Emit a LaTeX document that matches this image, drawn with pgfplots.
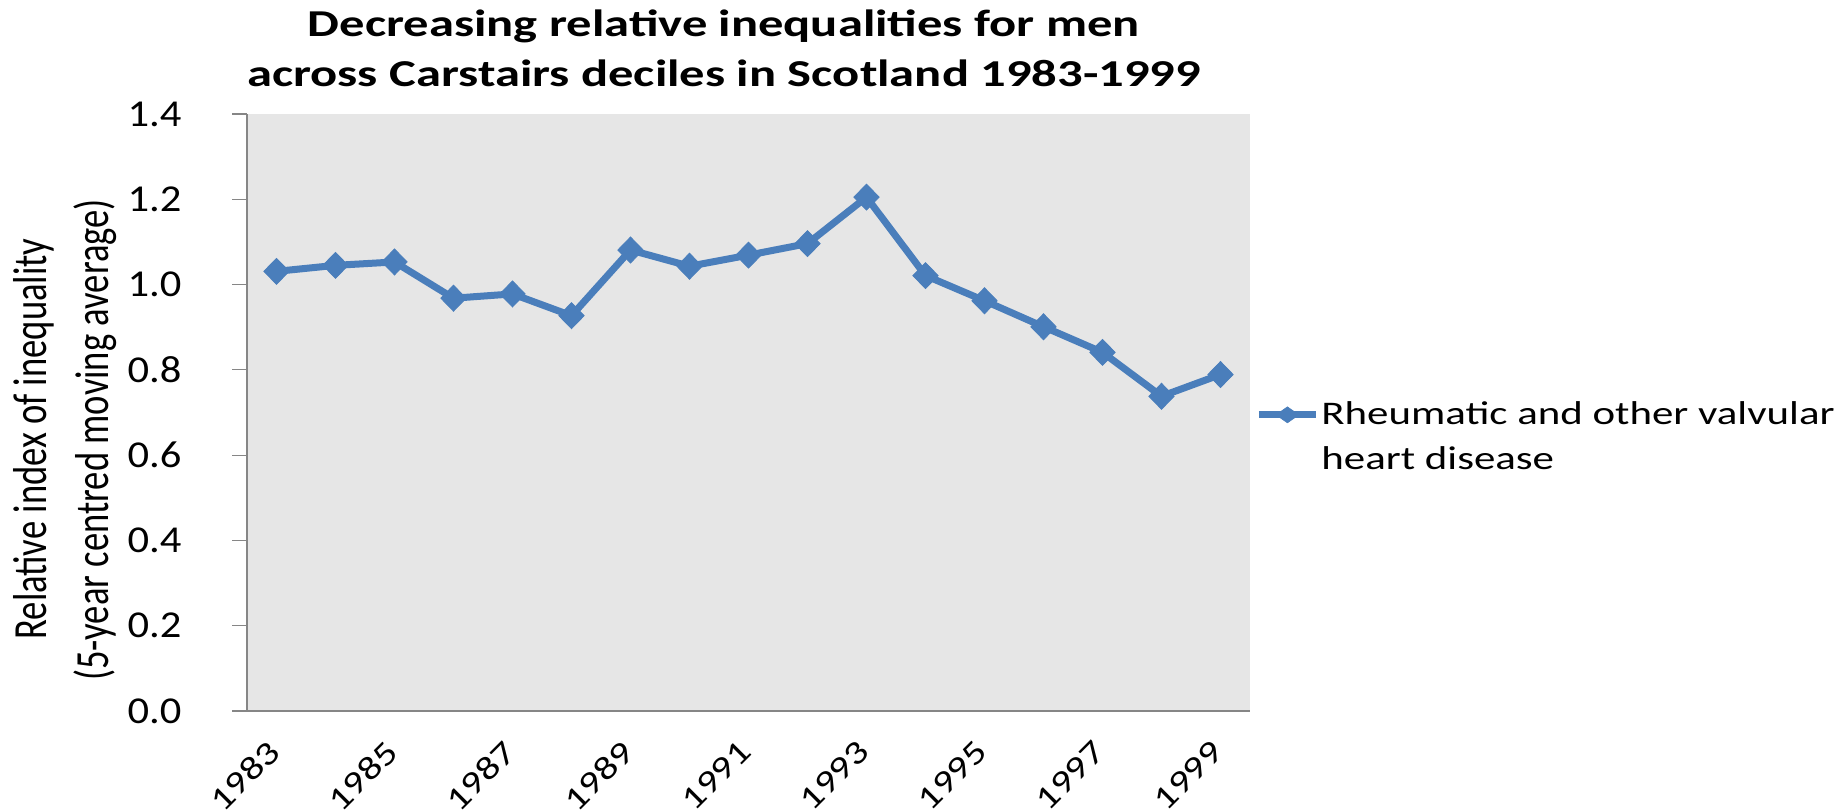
\documentclass[border=0pt]{standalone}
\usepackage{fontspec}
\setmainfont{Carlito}
\newfontfamily\legfont[FakeStretch=1.30]{Carlito}
\usepackage{pgfplots}
\pgfplotsset{compat=1.18}
\definecolor{serblue}{HTML}{4A7EBB}
\definecolor{plotbg}{HTML}{E6E6E6}
\definecolor{axgrey}{HTML}{868686}
\pgfplotstableread{
idx year value
0 1983 1.031
1 1984 1.045
2 1985 1.053
3 1986 0.968
4 1987 0.978
5 1988 0.927
6 1989 1.081
7 1990 1.043
8 1991 1.069
9 1992 1.096
10 1993 1.205
11 1994 1.021
12 1995 0.962
13 1996 0.901
14 1997 0.841
15 1998 0.738
16 1999 0.789
}\datatable
\begin{document}
\begin{tikzpicture}[x=1pt,y=1pt]
\useasboundingbox (0,0) rectangle (921.5,406);
\begin{axis}[
  at={(123.5pt,50.5pt)}, anchor=south west,
  scale only axis, width=501.5pt, height=298.5pt,
  xmin=-0.5, xmax=16.5, ymin=0, ymax=1.4,
  axis x line*=bottom, axis y line*=left,
  axis line style={axgrey, line width=0.7pt, -},
  axis background/.style={fill=plotbg},
  tick align=outside, major tick length=7.5pt, minor tick length=6pt,
  every tick/.style={axgrey, line width=0.6pt},
  ytick={0,0.2,0.4,0.6,0.8,1.0,1.2,1.4},
  /pgf/number format/fixed, /pgf/number format/fixed zerofill, /pgf/number format/precision=1, /pgf/number format/assume math mode=true,
  yticklabel style={font=\fontsize{19}{22}\selectfont, inner sep=0pt, anchor=east, xshift=-25pt, xscale=1.12},
  xtick={0,2,4,6,8,10,12,14,16},
  xticklabels={1983,1985,1987,1989,1991,1993,1995,1997,1999},
  xtick style={draw=none},
  minor xtick={-0.5,0.5,1.5,2.5,3.5,4.5,5.5,6.5,7.5,8.5,9.5,10.5,11.5,12.5,13.5,14.5,15.5,16.5},
  xticklabel style={font=\fontsize{16.5}{18}\selectfont, inner sep=0pt, anchor=north east, xshift=-5.25pt, yshift=-6pt, rotate=45, xscale=1.24},
  legend style={at={(axis description cs:1.005,0.5226)}, anchor=north west, draw=none, fill=none, font=\legfont\fontsize{16.5}{22.5}\selectfont, inner sep=0pt, nodes={inner sep=1pt}, cells={align=left}},
  legend image code/.code={\draw[#1, mark=none, yshift=11pt] (0pt,0pt) -- (28.5pt,0pt); \draw[#1, yshift=11pt, mark size=4pt, mark options={fill=serblue, draw=serblue, line width=0.3pt, xscale=1.9}] plot coordinates {(14.25pt,0pt)};},
  legend cell align=left,
  clip=false,
]
\addplot[serblue, line width=3.5pt, mark=diamond*, mark size=6.5pt, mark options={fill=serblue, line width=0.4pt, xscale=1.3}] table[x=idx, y=value] {\datatable};
\addlegendentry{Rheumatic and other valvular\\heart disease}
\end{axis}
\node[anchor=base, font=\bfseries\fontsize{19}{22}\selectfont, xscale=1.33] at (362pt,387.5pt) {Decreasing relative inequalities for men};
\node[anchor=base, font=\bfseries\fontsize{19}{22}\selectfont, xscale=1.33] at (362pt,362.5pt) {across Carstairs deciles in Scotland 1983-1999};
\node[anchor=base, font=\fontsize{18.3}{22}\selectfont, xscale=1.3, rotate=90] at (23.5pt,186.5pt) {Relative index of inequality};
\node[anchor=base, font=\fontsize{18.3}{22}\selectfont, xscale=1.3, rotate=90] at (54pt,186pt) {(5-year centred moving average)};
\end{tikzpicture}
\end{document}
